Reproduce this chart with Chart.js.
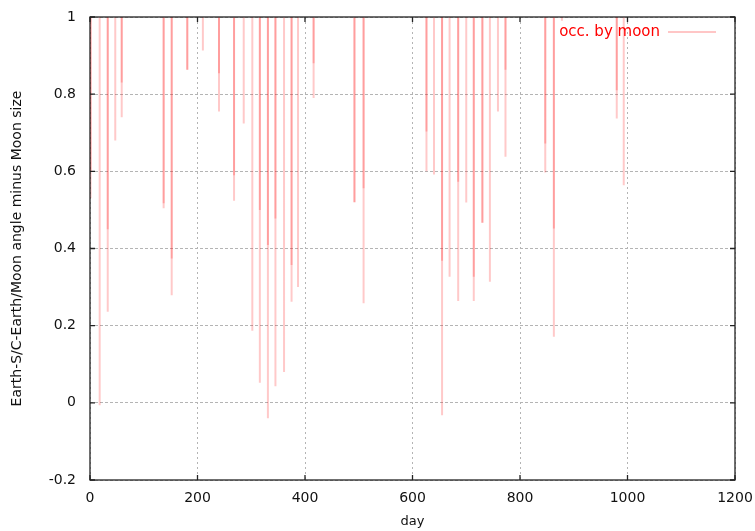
<!DOCTYPE html>
<html>
<head>
<meta charset="utf-8">
<script src="https://cdn.jsdelivr.net/npm/chart.js@4/dist/chart.umd.min.js"></script>
<style>
  body { margin: 0; background: #fff; }
</style>
</head>
<body>
<canvas id="myChart" width="755" height="531"></canvas>
<script>
// dias con ocultacion por la luna, y minimo alcanzado en cada evento
const eventDays = [1, 18, 33, 47, 59, 137, 152, 181, 210, 240, 268, 286, 302, 316, 331, 345, 361, 375, 387, 416,
    492, 509, 626, 640, 655, 669, 685, 700, 714, 730, 744, 759, 773, 847, 863, 878, 980, 993];
const deepMin = [0.53, -0.006, 0.236, 0.68, 0.74, 0.504, 0.279, 0.863, 0.913, 0.755, 0.524, 0.724, 0.187, 0.052, -0.04, 0.043, 0.08, 0.262, 0.30, 0.79,
    0.52, 0.258, 0.60, 0.592, -0.032, 0.327, 0.264, 0.519, 0.264, 0.467, 0.314, 0.755, 0.638, 0.597, 0.171, 0.99, 0.737, 0.564];
// tramo de vuelta (mas corto) que se superpone y oscurece la parte alta
const shallowMin = [0.6, null, 0.45, null, 0.83, 0.517, 0.374, 0.863, null, 0.854, 0.59, null, null, 0.5, 0.409, 0.478, null, 0.357, null, 0.88,
    0.52, 0.556, 0.703, null, 0.368, null, 0.573, null, 0.327, 0.467, null, null, 0.863, 0.672, 0.452, null, 0.81, null];

const xTicks = [0, 200, 400, 600, 800, 1000, 1200];
const yTicks = [-0.2, 0, 0.2, 0.4, 0.6, 0.8, 1];
const legendLabel = 'occ. by moon';
const xTitle = 'day';
const yTitle = 'Earth-S/C-Earth/Moon angle minus Moon size';

const yTop = yTicks[yTicks.length - 1];
const lineColor = 'rgba(255, 0, 0, 0.21)';

const buildSegments = (mins) => {
    const pts = [];
    eventDays.forEach((d, i) => {
        if (mins[i] === null) return;
        pts.push({ x: d, y: yTop }, { x: d, y: mins[i] }, { x: d, y: null });
    });
    return pts;
};

const fontTicks = { family: '"DejaVu Sans", sans-serif', size: 14 };
const fontTitle = { family: '"DejaVu Sans", sans-serif', size: 14 };

const gnuplotFrame = {
    id: 'gnuplotFrame',
    beforeDraw(chart) {
        const ctx = chart.ctx;
        ctx.save();
        ctx.fillStyle = '#fff';
        ctx.fillRect(0, 0, chart.width, chart.height);
        ctx.restore();
    },
    afterDraw(chart) {
        const { ctx, chartArea: a, scales } = chart;
        ctx.save();
        ctx.strokeStyle = '#222';
        ctx.lineWidth = 1.3;
        ctx.strokeRect(a.left, a.top, a.right - a.left, a.bottom - a.top);
        const t = 5;
        ctx.beginPath();
        xTicks.forEach(v => {
            const px = scales.x.getPixelForValue(v);
            ctx.moveTo(px, a.bottom); ctx.lineTo(px, a.bottom - t);
            ctx.moveTo(px, a.top); ctx.lineTo(px, a.top + t);
        });
        yTicks.forEach(v => {
            const py = scales.y.getPixelForValue(v);
            ctx.moveTo(a.left, py); ctx.lineTo(a.left + t, py);
            ctx.moveTo(a.right, py); ctx.lineTo(a.right - t, py);
        });
        ctx.stroke();

        // leyenda estilo gnuplot: texto a la izquierda, muestra a la derecha
        const ly = a.top + 15;
        ctx.font = '15px "DejaVu Sans", sans-serif';
        ctx.fillStyle = '#ff0000';
        ctx.textAlign = 'right';
        ctx.textBaseline = 'middle';
        ctx.fillText(legendLabel, a.right - 75, ly);
        ctx.strokeStyle = 'rgba(255, 0, 0, 0.3)';
        ctx.lineWidth = 1.5;
        ctx.beginPath();
        ctx.moveTo(a.right - 67, ly);
        ctx.lineTo(a.right - 19, ly);
        ctx.stroke();
        ctx.restore();
    }
};

const ctx = document.getElementById('myChart').getContext('2d');
new Chart(ctx, {
    type: 'scatter',
    data: {
        datasets: [
            {
                label: legendLabel,
                data: buildSegments(deepMin),
                showLine: true,
                spanGaps: false,
                borderColor: lineColor,
                borderWidth: 2,
                pointRadius: 0
            },
            {
                label: legendLabel + ' (vuelta)',
                data: buildSegments(shallowMin),
                showLine: true,
                spanGaps: false,
                borderColor: lineColor,
                borderWidth: 2,
                pointRadius: 0
            }
        ]
    },
    options: {
        responsive: false,
        animation: false,
        devicePixelRatio: 1,
        layout: { padding: { left: 0, right: 20, top: 17, bottom: 0 } },
        plugins: {
            legend: { display: false },
            tooltip: { enabled: false }
        },
        scales: {
            x: {
                type: 'linear',
                min: xTicks[0],
                max: xTicks[xTicks.length - 1],
                afterBuildTicks: s => { s.ticks = xTicks.map(v => ({ value: v })); },
                afterFit: s => { s.height = 51; s.paddingLeft = 0; s.paddingRight = 0; },
                grid: { color: '#b4b4b4', drawTicks: false, lineWidth: 1 },
                border: { display: false, dash: [2, 3] },
                ticks: { font: fontTicks, color: '#111', padding: 10, maxRotation: 0, callback: v => String(v) },
                title: { display: true, text: xTitle, font: { family: fontTitle.family, size: 13 }, color: '#111', padding: { top: 0, bottom: 2 } }
            },
            y: {
                type: 'linear',
                min: yTicks[0],
                max: yTop,
                afterBuildTicks: s => { s.ticks = yTicks.map(v => ({ value: v })); },
                afterFit: s => { s.width = 90; s.paddingTop = 0; s.paddingBottom = 0; },
                grid: { color: '#b4b4b4', drawTicks: false, lineWidth: 1 },
                border: { display: false, dash: [3, 2] },
                ticks: { font: fontTicks, color: '#111', padding: 14, callback: v => String(+v.toFixed(1)) },
                title: { display: true, text: yTitle, font: fontTitle, color: '#111', padding: { top: 9, bottom: 0 } }
            }
        }
    },
    plugins: [gnuplotFrame]
});
</script>
</body>
</html>
